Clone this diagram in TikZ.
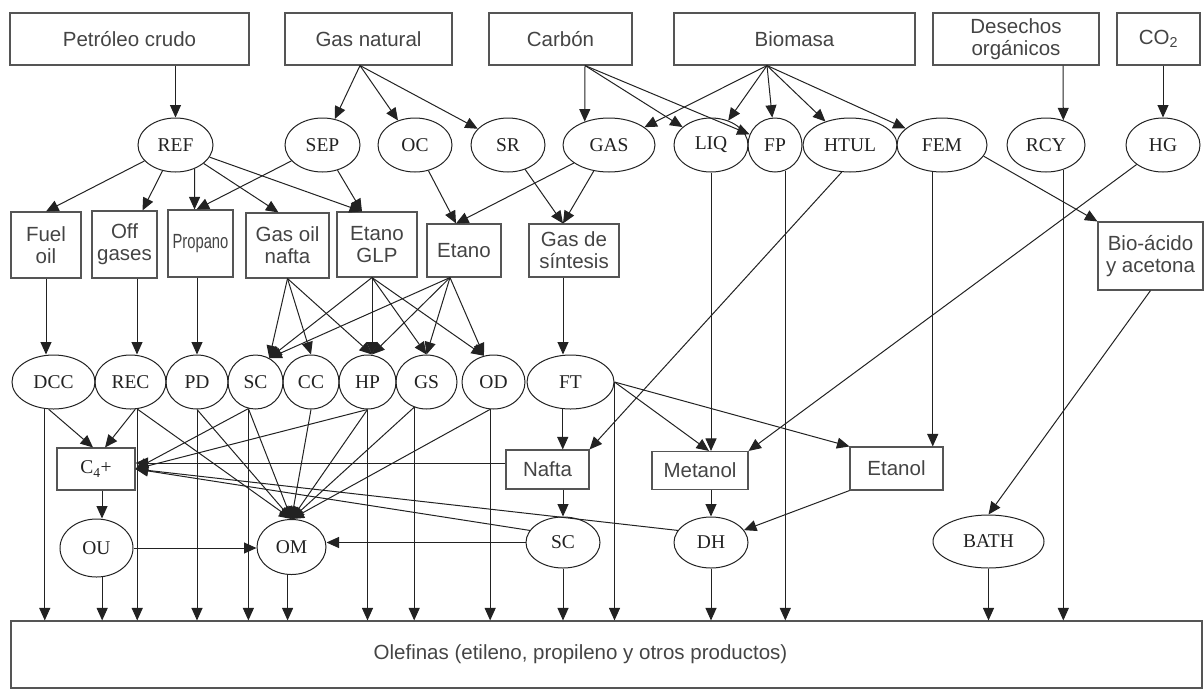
\documentclass[tikz,border=0pt]{standalone}
\usepackage{fontspec}
\usepackage{graphicx}
\setmainfont{Liberation Serif}
\newfontfamily\boxfamily{Liberation Sans}
\newfontfamily\procfamily{Liberation Serif}
\usetikzlibrary{shapes.geometric, arrows.meta, positioning}

\definecolor{edgegray}{HTML}{555555}
\definecolor{labelgray}{HTML}{444444}
\definecolor{linedark}{HTML}{222222}

\begin{document}
\begin{tikzpicture}[
        x=1pt, y=-1pt,
        box/.style={rectangle, draw=edgegray, line width=1.1pt, text=labelgray, font=\boxfamily\fontsize{20.5}{22}\selectfont, align=center, inner sep=0pt},
        proc/.style={ellipse, draw=linedark, line width=1pt, text=linedark, font=\procfamily\fontsize{19.5}{22}\selectfont, inner sep=0pt, minimum height=54pt},
        arrow/.style={-{Triangle[length=12.5pt, width=11pt]}, line width=1pt, draw=linedark}
    ]
    \useasboundingbox (0,0) rectangle (1204,689);
    % Nodes
    \node (crudo) [box, minimum width=239pt, minimum height=52pt] at (129.5,39) {Petróleo crudo};
    \node (gasnat) [box, minimum width=167pt, minimum height=52pt] at (368.5,39) {Gas natural};
    \node (carbon) [box, minimum width=143pt, minimum height=52pt] at (560.5,39) {Carbón};
    \node (biomasa) [box, minimum width=241pt, minimum height=52pt] at (794.5,39) {Biomasa};
    \node (desechos) [box, minimum width=166pt, minimum height=52pt] at (1016,39) {Desechos\\orgánicos};
    \node (co2) [box, minimum width=83pt, minimum height=52pt] at (1158.5,39) {CO\textsubscript{2}};

    \node (ref) [proc, minimum width=75pt] at (175.5,145) {REF};
    \node (sep) [proc, minimum width=75pt] at (322.5,145) {SEP};
    \node (oc) [proc, minimum width=74pt] at (415,145) {OC};
    \node (sr) [proc, minimum width=74pt] at (508,145) {SR};
    \node (gas) [proc, minimum width=92pt] at (609,145) {GAS};
    \node (liq) [proc, minimum width=74pt] at (711,145) {LIQ};
    \node (fp) [proc, minimum width=54pt] at (775,145) {FP};
    \node (htul) [proc, minimum width=94pt] at (850,145) {HTUL};
    \node (fem) [proc, minimum width=90pt] at (942,145) {FEM};
    \node (rcy) [proc, minimum width=78pt] at (1046,145) {RCY};
    \node (hg) [proc, minimum width=74pt] at (1163,145) {HG};

    \node (fuel) [box, minimum width=70pt, minimum height=66pt] at (46,245) {Fuel\\oil};
    \node (offgas) [box, minimum width=65pt, minimum height=67pt] at (124.5,244.5) {Off\\gases};
    \node (propano) [box, minimum width=65pt, minimum height=67pt] at (200.5,243.5) {\scalebox{0.72}[1]{Propano}};
    \node (gasoil) [box, minimum width=83pt, minimum height=65pt] at (287.5,245.5) {Gas oil\\nafta};
    \node (etanoglp) [box, minimum width=80pt, minimum height=65pt] at (377,244.5) {Etano\\GLP};
    \node (etano) [box, minimum width=74pt, minimum height=53pt] at (464,250.5) {Etano};
    \node (sintesis) [box, minimum width=90pt, minimum height=53pt] at (574,250.5) {Gas de\\síntesis};
    \node (bioacido) [box, minimum width=105pt, minimum height=68pt] at (1150.5,256) {Bio-ácido\\y acetona};

    \node (dcc) [proc, minimum width=83pt] at (53.5,382) {DCC};
    \node (rec) [proc, minimum width=71pt] at (130.5,382) {REC};
    \node (pd) [proc, minimum width=62pt] at (197,382) {PD};
    \node (sc) [proc, minimum width=55pt] at (255.5,382) {SC};
    \node (cc) [proc, minimum width=56pt] at (311,382) {CC};
    \node (hp) [proc, minimum width=57pt] at (367.5,382) {HP};
    \node (gs) [proc, minimum width=61pt] at (426.5,382) {GS};
    \node (od) [proc, minimum width=63pt] at (493.5,382) {OD};
    \node (ft) [proc, minimum width=87pt] at (570.5,382) {FT};

    \node (c4) [box, font=\procfamily\fontsize{19.5}{22}\selectfont, text=linedark, minimum width=78pt, minimum height=42pt] at (96,469) {C\textsubscript{4}+};
    \node (nafta) [box, minimum width=83pt, minimum height=39pt] at (547.5,469.5) {Nafta};
    \node (metanol) [box, minimum width=96pt, minimum height=38pt] at (700,470.5) {Metanol};
    \node (etanol) [box, minimum width=93pt, minimum height=43pt] at (896.5,468.5) {Etanol};

    \node (ou) [proc, minimum width=73pt, minimum height=58pt] at (96.5,548) {OU};
    \node (om) [proc, minimum width=69pt, minimum height=55pt] at (291.5,547) {OM};
    \node (scb) [proc, minimum width=74pt, minimum height=51pt] at (563,542.5) {SC};
    \node (dh) [proc, minimum width=74pt, minimum height=51pt] at (711,542.5) {DH};
    \node (bath) [proc, minimum width=111pt, minimum height=53pt] at (988.5,541.5) {BATH};

    \node (olefinas) [box, minimum width=1191pt, minimum height=67pt,
        label={[box, draw=none, xshift=-26pt]center:{Olefinas (etileno, propileno y otros productos)}}] at (606.5,654.5) {};

    % Arrows
    \draw [arrow] (crudo.south -| ref.north) -- (ref.north);
    \draw [arrow] ([xshift=-8.5pt]gasnat.south) -- (sep);
    \draw [arrow] ([xshift=-8.5pt]gasnat.south) -- (oc);
    \draw [arrow] ([xshift=-8.5pt]gasnat.south) -- (sr);
    \draw [arrow] ([xshift=24.5pt]carbon.south) -- (gas.136);
    \draw [arrow] ([xshift=24.5pt]carbon.south) -- (liq);
    \draw [arrow] ([xshift=24.5pt]carbon.south) -- (fp);
    \draw [arrow] ([xshift=-27.5pt]biomasa.south) -- (gas);
    \draw [arrow] ([xshift=-27.5pt]biomasa.south) -- (liq);
    \draw [arrow] ([xshift=-27.5pt]biomasa.south) -- (fp);
    \draw [arrow] ([xshift=-27.5pt]biomasa.south) -- (htul);
    \draw [arrow] ([xshift=-27.5pt]biomasa.south) -- (fem);
    \draw [arrow] ([xshift=47pt]desechos.south) -- (rcy.55);
    \draw [arrow] (co2.south -| hg.north) -- (hg.north);

    \draw [arrow] (ref) -- (fuel.north);
    \draw [arrow] (ref) -- ([xshift=18pt]offgas.north);
    \draw [arrow] (ref.-51) -- ([xshift=-6pt]propano.north);
    \draw [arrow] (ref) -- ([xshift=-9pt]gasoil.north);
    \draw [arrow] (ref) -- ([xshift=-15pt]etanoglp.north);
    \draw [arrow] (sep) -- ([xshift=-4pt]propano.north);
    \draw [arrow] (sep) -- ([xshift=-15pt]etanoglp.north);
    \draw [arrow] (oc) -- ([xshift=-8pt]etano.north);
    \draw [arrow] (gas) -- ([xshift=-8pt]etano.north);
    \draw [arrow] (sr) -- ([xshift=-11pt]sintesis.north);
    \draw [arrow] (gas) -- ([xshift=-11pt]sintesis.north);
    \draw [arrow] (liq.south) -- (liq.south |- metanol.north);
    \draw [arrow] (fp.-68) -- (fp.-68 |- olefinas.north);
    \draw [arrow] (htul.-107) -- (nafta.north east);
    \draw [arrow] (fem.-109) -- (fem.-109 |- etanol.north);
    \draw [arrow] (fem.-15) -- (bioacido.north west);
    \draw [arrow] (rcy.-55) -- (rcy.-55 |- olefinas.north);
    \draw [arrow] (hg) -- (metanol.north east);

    \draw [arrow] (fuel.south) -- (fuel.south |- dcc.north);
    \draw [arrow] ([xshift=12.5pt]offgas.south) -- ([xshift=12.5pt]offgas.south |- rec.north);
    \draw [arrow] (propano.south -| pd.north) -- (pd.north);
    \draw [arrow] (gasoil.south) -- (sc.60);
    \draw [arrow] (gasoil.south) -- (cc.north);
    \draw [arrow] (gasoil.south) -- ([xshift=4.5pt]hp.north);
    \draw [arrow] ([xshift=-5pt]etanoglp.south) -- (sc.60);
    \draw [arrow] ([xshift=-5pt]etanoglp.south) -- ([xshift=4.5pt]hp.north);
    \draw [arrow] ([xshift=-5pt]etanoglp.south) -- (gs.north);
    \draw [arrow] ([xshift=-5pt]etanoglp.south) -- (od.110);
    \draw [arrow] ([xshift=-14pt]etano.south) -- (sc.60);
    \draw [arrow] ([xshift=-14pt]etano.south) -- ([xshift=4.5pt]hp.north);
    \draw [arrow] ([xshift=-14pt]etano.south) -- (gs.north);
    \draw [arrow] ([xshift=-14pt]etano.south) -- (od.110);
    \draw [arrow] ([xshift=-11pt]sintesis.south) -- ([xshift=-11pt]sintesis.south |- ft.north);

    \draw [arrow] (dcc.-100) -- ([xshift=-3pt]c4.north);
    \draw [arrow] (dcc.-108) -- (dcc.-108 |- olefinas.north);
    \draw [arrow] (rec.-80) -- ([xshift=9pt]c4.north);
    \draw [arrow] (rec.-76) -- (rec.-76 |- olefinas.north);
    \draw [arrow] (rec.-76) -- (om.north);
    \draw [arrow] (pd.south) -- (pd.south |- olefinas.north);
    \draw [arrow] (pd.south) -- (om.north);
    \draw [arrow] (sc.-105) -- (sc.-105 |- olefinas.north);
    \draw [arrow] (sc.-105) -- (om.north);
    \draw [arrow] (sc.-105) -- (c4.east);
    \draw [arrow] (cc.south) -- (om.north);
    \draw [arrow] (hp.south) -- (hp.south |- olefinas.north);
    \draw [arrow] (hp.south) -- (om.north);
    \draw [arrow] (hp.south) -- (c4.east);
    \draw [arrow] (gs.-116) -- (gs.-116 |- olefinas.north);
    \draw [arrow] (gs.-116) -- (om.north);
    \draw [arrow] (od.-97) -- (od.-97 |- olefinas.north);
    \draw [arrow] (od.-97) -- (om.north);
    \draw [arrow] (ft.-106) -- (ft.-106 |- nafta.north);
    \draw [arrow] (ft.east) -- (ft.east |- olefinas.north);
    \draw [arrow] (ft.east) -- ([xshift=9pt]metanol.north);
    \draw [arrow] (ft.east) -- (etanol.north west);

    \draw [arrow] ([xshift=6pt]c4.south) -- ([xshift=6pt]c4.south |- ou.north);
    \draw [arrow] (nafta.south -| scb.north) -- (scb.north);
    \draw [arrow] ([yshift=6.5pt]nafta.west) -- ([yshift=6.5pt]nafta.west -| c4.east);
    \draw [arrow] (metanol.south -| dh.north) -- (dh.north);
    \draw [arrow] (etanol.south west) -- (dh);

    \draw [arrow] (ou.east) -- (ou.east -| om.west);
    \draw [arrow] (ou.-79) -- (ou.-79 |- olefinas.north);
    \draw [arrow] (om.-98) -- (om.-98 |- olefinas.north);
    \draw [arrow] (scb.west) -- (scb.west -| om.east);
    \draw [arrow] (scb.160) -- (c4.east);
    \draw [arrow] (scb.south) -- (scb.south |- olefinas.north);
    \draw [arrow] (dh.160) -- (c4.east);
    \draw [arrow] (dh.south) -- (dh.south |- olefinas.north);
    \draw [arrow] (bath.south) -- (bath.south |- olefinas.north);
    \draw [arrow] (bioacido.south) -- (bath.north);
\end{tikzpicture}
\end{document}
